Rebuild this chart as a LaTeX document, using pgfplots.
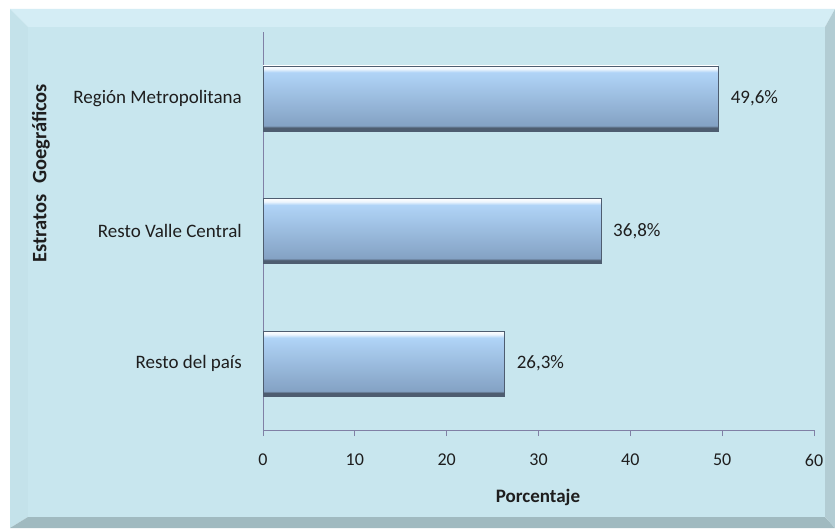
\documentclass[border=0pt]{standalone}
\usepackage{pgfplots}
\pgfplotsset{compat=1.18}
\usepackage{fontspec}
\setmainfont{Carlito}

\definecolor{panel}{RGB}{200,230,238}
\definecolor{panelTop}{RGB}{212,237,245}
\definecolor{panelLeft}{RGB}{196,226,234}
\definecolor{panelBottom}{RGB}{160,186,192}
\definecolor{panelRight}{RGB}{178,204,211}
\definecolor{axiscol}{RGB}{128,128,165}
\definecolor{bartop}{RGB}{176,212,247}
\definecolor{barbot}{RGB}{132,162,196}
\definecolor{bardark}{RGB}{78,93,112}
\definecolor{txt}{RGB}{30,30,30}

\pgfdeclareverticalshading{barshade}{100bp}{
  color(0bp)=(bardark); color(25bp)=(bardark); color(27.5bp)=(bardark);
  color(29bp)=(barbot); color(70bp)=(bartop); color(72.5bp)=(white!75!bartop);
  color(75bp)=(white); color(100bp)=(white)}

\pgfplotsset{
  barstyle/.style={xbar, bar width=65pt, bar shift=0pt, shading=barshade,
    draw=bardark, line width=0.6pt,
    point meta=explicit symbolic, nodes near coords,
    every node near coord/.append style={text=txt, anchor=west, inner sep=0pt,
      xshift=12pt, font=\fontsize{19}{23}\selectfont}},
}

\begin{document}
\begin{tikzpicture}[x=1pt,y=1pt]
% page and bevelled panel
\fill[white] (0,0) rectangle (835,528);
\fill[panelTop] (10,519) -- (835,519) -- (825,501) -- (28,501) -- cycle;
\fill[panelLeft] (10,0) -- (10,519) -- (28,501) -- (28,11) -- cycle;
\fill[panelBottom] (10,0) -- (835,0) -- (825,11) -- (28,11) -- cycle;
\fill[panelRight] (835,0) -- (835,519) -- (825,501) -- (825,11) -- cycle;
\fill[panel] (28,11) rectangle (825,501);

\begin{axis}[
    at={(263pt,98pt)}, anchor=south west,
    scale only axis, width=551pt, height=398pt,
    xmin=0, xmax=60, ymin=-0.5, ymax=2.5,
    axis x line=bottom, axis y line=left,
    axis line style={-, draw=axiscol, line width=0.8pt},
    xtick={0,10,...,60},
    ytick={0,1,2},
    yticklabels={Resto del país, Resto Valle Central, Región Metropolitana},
    tick align=outside, major tick length=6pt,
    xtick style={draw=axiscol, line width=0.8pt},
    ytick style={draw=none},
    /pgf/number format/assume math mode=true,
    xticklabel style={font=\fontsize{18}{21}\selectfont, text=txt, inner sep=0pt, yshift=-18pt},
    yticklabel style={font=\fontsize{19}{23}\selectfont, text=txt, inner sep=0pt, xshift=-15pt},
    clip=false,
  ]
  \addplot[barstyle] coordinates {(26.3,0) [26,3\%]};
  \addplot[barstyle] coordinates {(36.8,1) [36,8\%]};
  \addplot[barstyle] coordinates {(49.6,2) [49,6\%]};
\end{axis}

\node[rotate=90, text=txt, font=\bfseries\fontsize{20.5}{24}\selectfont] at (41,355) {Estratos\hspace{0.5em}Goegráficos};
\node[text=txt, font=\bfseries\fontsize{19}{23}\selectfont] at (538,31) {Porcentaje};
\end{tikzpicture}
\end{document}
